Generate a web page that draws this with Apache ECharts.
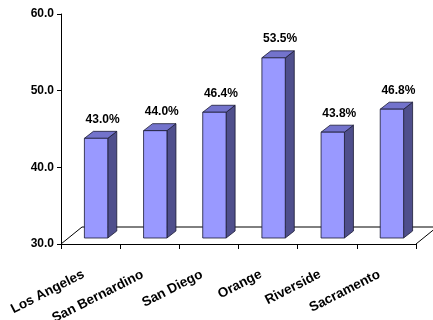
<!DOCTYPE html>
<html>
<head>
<meta charset="utf-8">
<script src="https://cdn.jsdelivr.net/npm/echarts@6/dist/echarts.min.js"></script>
<style>
  html, body { margin: 0; padding: 0; background: #fff; }
  #chart { width: 433px; height: 320px; }
</style>
</head>
<body>
<div id="chart"></div>
<script>
// County shares (percent)
const categories = ['Los Angeles', 'San Bernardino', 'San Diego', 'Orange', 'Riverside', 'Sacramento'];
const values = [43.0, 44.0, 46.4, 53.5, 43.8, 46.8];
const yTicks = [30, 40, 50, 60];

const AXIS_MIN = yTicks[0];
const AXIS_MAX = yTicks[yTicks.length - 1];
const FONT = 'Liberation Sans, Arial, sans-serif';

// 3D look: bars sit a little behind the front edge of the floor
const BAR_SHIFT = [5.5, -6];
const BAR_DEPTH = [9, -7];
const FLOOR_DEPTH = [21, -17];

const chart = echarts.init(document.getElementById('chart'), null, { renderer: 'canvas' });

function renderFloor(params, api) {
  const band = api.size([1, 0])[0];
  const first = api.coord([0, AXIS_MIN]);
  const last = api.coord([categories.length - 1, AXIS_MIN]);
  const l = first[0] - band / 2;
  const r = last[0] + band / 2;
  const y = first[1];
  return {
    type: 'polyline',
    shape: { points: [[l, y], [l + FLOOR_DEPTH[0], y + FLOOR_DEPTH[1]], [r + FLOOR_DEPTH[0], y + FLOOR_DEPTH[1]], [r, y]] },
    style: { stroke: '#000', lineWidth: 1, fill: null }
  };
}

function renderBar(params, api) {
  const i = api.value(0);
  const v = api.value(1);
  const base = api.coord([i, AXIS_MIN]);
  const top = api.coord([i, v]);
  const band = api.size([1, 0])[0];
  const w = band * 0.395;
  const x0 = base[0] - w / 2 + BAR_SHIFT[0];
  const x1 = x0 + w;
  const yb = base[1] + BAR_SHIFT[1];
  const yt = top[1] + BAR_SHIFT[1];
  const dx = BAR_DEPTH[0], dy = BAR_DEPTH[1];
  const edge = { stroke: '#1a1a33', lineWidth: 0.8 };
  return {
    type: 'group',
    children: [
      { type: 'polygon', shape: { points: [[x1, yt], [x1 + dx, yt + dy], [x1 + dx, yb + dy], [x1, yb]] },
        style: Object.assign({ fill: '#4F4F8C' }, edge) },
      { type: 'polygon', shape: { points: [[x0, yt], [x0 + dx, yt + dy], [x1 + dx, yt + dy], [x1, yt]] },
        style: Object.assign({ fill: '#7373CC' }, edge) },
      { type: 'polygon', shape: { points: [[x0, yt], [x1, yt], [x1, yb], [x0, yb]] },
        style: Object.assign({ fill: '#9999FF' }, edge) },
      { type: 'text',
        style: { text: v.toFixed(1) + '%', x: (x0 + x1) / 2 + 6.5, y: yt - 19,
                 align: 'center', verticalAlign: 'middle', fill: '#000',
                 font: 'bold 12px ' + FONT } }
    ]
  };
}

chart.setOption({
  animation: false,
  backgroundColor: '#fff',
  grid: { left: 61, right: 17, top: 14, bottom: 76, containLabel: false, outerBoundsMode: 'none' },
  xAxis: {
    type: 'category',
    data: categories,
    boundaryGap: true,
    axisLine: { lineStyle: { color: '#000', width: 1 } },
    axisTick: { show: true, length: 5, lineStyle: { color: '#000' } },
    axisLabel: { rotate: 27, margin: 26, interval: 0, color: '#000', padding: [0, 8, 0, 0],
                 hideOverlap: false,
                 fontFamily: FONT, fontWeight: 'bold', fontSize: 13.5 }
  },
  yAxis: {
    type: 'value',
    min: AXIS_MIN,
    max: AXIS_MAX,
    interval: 10,
    axisLine: { show: true, lineStyle: { color: '#000', width: 1 } },
    axisTick: { show: true, length: 4, lineStyle: { color: '#000' } },
    splitLine: { show: false },
    axisLabel: { margin: 7, color: '#000', fontFamily: FONT, fontWeight: 'bold', fontSize: 12,
                 formatter: v => v.toFixed(1) }
  },
  series: [
    { type: 'custom', z: 1, clip: false, renderItem: renderFloor, data: [[0, AXIS_MIN]], silent: true },
    { type: 'custom', z: 2, clip: false, renderItem: renderBar,
      data: values.map((v, i) => [i, v]), silent: true }
  ]
});
</script>
</body>
</html>
